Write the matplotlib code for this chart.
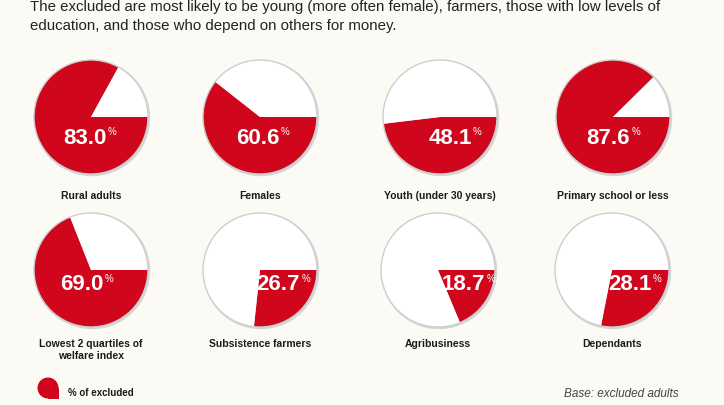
import matplotlib
matplotlib.use("Agg")
import matplotlib.pyplot as plt
from matplotlib import patches

# ---- data ----
categories = ["Rural adults", "Females", "Youth (under 30 years)", "Primary school or less",
              "Lowest 2 quartiles of\nwelfare index", "Subsistence farmers", "Agribusiness", "Dependants"]
values = [83.0, 60.6, 48.1, 87.6, 69.0, 26.7, 18.7, 28.1]
title_lines = ["The excluded are most likely to be young (more often female), farmers, those with low levels of",
               "education, and those who depend on others for money."]
legend_label = "% of excluded"
base_note = "Base: excluded adults"

# ---- layout (pixel coords, y from top) ----
W, H = 724, 406
centers_x = [91, 260, 440, 613, 91, 260, 438, 612]
centers_y = [118, 118, 118, 118, 271, 271, 271, 271]
label_dx = [-6, -2, 10, -5, -9, 18, 25, 18]
label_dy = [20, 20, 20, 20, 14, 14, 14, 14]
R = 57
RED = "#d0061c"
BG = "#fbfaf4"

fig = plt.figure(figsize=(W / 100, H / 100), dpi=100, facecolor=BG)
ax = fig.add_axes([0, 0, 1, 1])
ax.set_facecolor(BG)

def Y(y):
    return H - y

for i, v in enumerate(values):
    cx, cy = centers_x[i], Y(centers_y[i])
    ax.add_patch(patches.Circle((cx + 1, cy - 1), R + 1.2, facecolor="#d6d6d6", edgecolor="none", zorder=1))
    ax.pie([v, 100 - v], colors=[RED, "white"], startangle=0, counterclock=False,
           center=(cx, cy), radius=R, wedgeprops=dict(linewidth=0, edgecolor="none"))
    ax.add_patch(patches.Circle((cx, cy), R, facecolor="none", edgecolor="#cfcfcf", linewidth=1.0, zorder=5))
    t = ax.text(cx + label_dx[i], Y(centers_y[i] + label_dy[i]), f"{v:.1f}", color="white",
                fontsize=16, fontweight="bold", family="Liberation Sans", ha="center", va="center", zorder=6)
    ax.annotate("%", xy=(1.0, 0.78), xycoords=t, xytext=(1, 0), textcoords="offset points",
                color="white", fontsize=7, family="Liberation Sans", ha="left", va="center", zorder=6)
    ly = centers_y[i] + 73 if i < 4 else centers_y[i] + 68
    ax.text(cx, Y(ly), categories[i], ha="center", va="top", fontsize=7.5, fontweight="bold",
            family=["Liberation Sans Narrow", "Liberation Sans"], color="#1a1a1a", linespacing=1.3, zorder=6)

# title
ax.text(30, Y(7), title_lines[0], ha="left", va="center", fontsize=10.8,
        family="Liberation Sans", color="#222222")
ax.text(30, Y(26), title_lines[1], ha="left", va="center", fontsize=10.8,
        family="Liberation Sans", color="#222222")

# legend
ax.add_patch(patches.Circle((48, Y(389)), 10.5, facecolor=RED, edgecolor="none", zorder=3))
ax.add_patch(patches.Rectangle((48, Y(399.5)), 10.5, 10.5, facecolor=RED, edgecolor="none", zorder=3))
ax.text(68, Y(393), legend_label, ha="left", va="center", fontsize=7, fontweight="bold",
        family=["Liberation Sans Narrow", "Liberation Sans"], color="#1a1a1a")
ax.text(679, Y(394), base_note, ha="right", va="center", fontsize=8.5, style="italic",
        family="Liberation Sans", color="#444444")

ax.set_xlim(0, W)
ax.set_ylim(0, H)
ax.set_aspect("equal")
ax.axis("off")
fig.savefig("out.png", dpi=100, facecolor=BG)
